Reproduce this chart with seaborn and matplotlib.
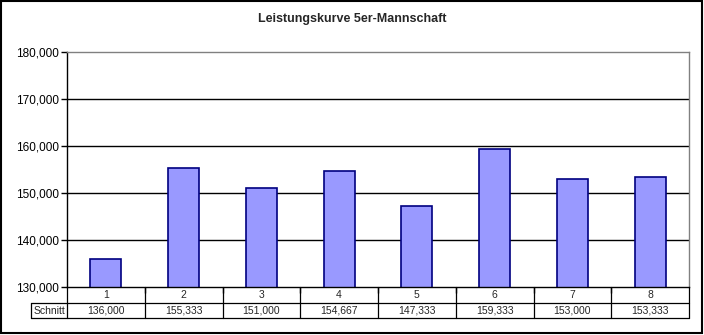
import matplotlib
matplotlib.use("Agg")
import matplotlib.pyplot as plt
import seaborn as sns
import pandas as pd
from matplotlib.patches import Rectangle
from matplotlib.lines import Line2D

# Team averages per match day
spieltage = ["1", "2", "3", "4", "5", "6", "7", "8"]
schnitt = [136000, 155333, 151000, 154667, 147333, 159333, 153000, 153333]
row_label = "Schnitt"
title = "Leistungskurve 5er-Mannschaft"
y_ticks = [130000, 140000, 150000, 160000, 170000, 180000]

sns.set_theme(style="white")
plt.rcParams["font.family"] = ["Liberation Sans", "DejaVu Sans"]

W, H = 704, 335
fig = plt.figure(figsize=(W / 100, H / 100), dpi=100)

def fx(px):
    return px / W

def fy(py):
    return 1 - py / H

# plot area in pixel coordinates
left, right, top, bottom = 67, 689, 52, 287
ax = fig.add_axes([fx(left), fy(bottom), fx(right - left), (bottom - top) / H])

df = pd.DataFrame({"Spieltag": spieltage, "Schnitt": schnitt})
sns.barplot(data=df, x="Spieltag", y="Schnitt", color="#9999FF", saturation=1,
            width=0.4, edgecolor="#000080", linewidth=1.2, ax=ax)

ax.set_ylim(y_ticks[0], y_ticks[-1])
ax.set_xlim(-0.5, len(spieltage) - 0.5)
ax.set_yticks(y_ticks)
ax.set_yticklabels([f"{v:,}" for v in y_ticks], fontsize=8.5, color="#000000")
ax.set_xticks([i - 0.5 for i in range(1, len(spieltage))])
ax.set_xticklabels([])
ax.tick_params(axis="y", length=4, width=1, color="black", left=True, pad=2)
ax.tick_params(axis="x", length=4, width=1, color="black", bottom=True, direction="out")
ax.set_xlabel("")
ax.set_ylabel("")

for v in y_ticks[1:-1]:
    ax.axhline(v, color="black", lw=1, zorder=0)

ax.spines["left"].set_color("black")
ax.spines["bottom"].set_color("black")
ax.spines["top"].set_color("#808080")
ax.spines["right"].set_color("#808080")
for s in ax.spines.values():
    s.set_linewidth(1)

# data table under the plot area
r1_top, r1_bot, r2_bot = 287, 303, 318
label_left = 31
col_w = (right - left) / len(spieltage)
lw = 0.9

def hline(x0, x1, y):
    fig.add_artist(Line2D([fx(x0), fx(x1)], [fy(y), fy(y)], color="black", lw=lw))

def vline(x, y0, y1):
    fig.add_artist(Line2D([fx(x), fx(x)], [fy(y0), fy(y1)], color="black", lw=lw))

hline(left, right, r1_bot)
hline(label_left, left, r1_bot)
hline(label_left, right, r2_bot)
vline(label_left, r1_bot, r2_bot)
for i in range(len(spieltage) + 1):
    vline(left + i * col_w, r1_top, r2_bot)

for i, (lab, val) in enumerate(zip(spieltage, schnitt)):
    cx = left + (i + 0.5) * col_w
    fig.text(fx(cx), fy((r1_top + r1_bot) / 2), lab, ha="center", va="center", fontsize=7.5)
    fig.text(fx(cx), fy((r1_bot + r2_bot) / 2), f"{val:,}", ha="center", va="center", fontsize=7.5)
fig.text(fx((label_left + left) / 2), fy((r1_bot + r2_bot) / 2), row_label,
         ha="center", va="center", fontsize=7.5)

fig.text(0.5, fy(19), title, ha="center", va="center", fontsize=9, fontweight="bold")

# outer chart frame
fig.add_artist(Rectangle((fx(1), fy(333)), fx(701), (332) / H, fill=False,
                         edgecolor="black", lw=1.5, transform=fig.transFigure))

fig.savefig("out.png", dpi=100)
